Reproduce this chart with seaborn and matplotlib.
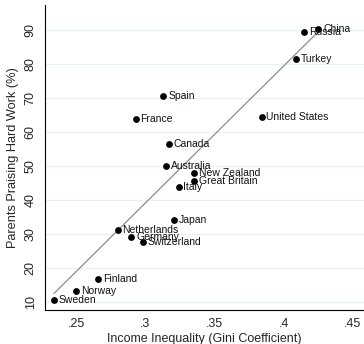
import matplotlib
matplotlib.use("Agg")
import matplotlib.pyplot as plt
import seaborn as sns
import pandas as pd

countries = ["Sweden", "Norway", "Finland", "Netherlands", "Germany", "Switzerland",
             "Japan", "Italy", "Australia", "New Zealand", "Great Britain", "Canada",
             "France", "Spain", "United States", "Turkey", "Russia", "China"]
gini = [0.234, 0.250, 0.266, 0.280, 0.290, 0.298,
        0.321, 0.324, 0.315, 0.335, 0.335, 0.317,
        0.293, 0.313, 0.384, 0.409, 0.415, 0.425]
hard_work = [10.6, 13.1, 16.6, 31.2, 29.1, 27.7,
             34.2, 43.9, 50.0, 47.9, 45.7, 56.4,
             64.0, 70.7, 64.5, 81.4, 89.5, 90.5]
x_ticks = [0.25, 0.30, 0.35, 0.40, 0.45]
x_tick_labels = [".25", ".3", ".35", ".4", ".45"]
y_ticks = [10, 20, 30, 40, 50, 60, 70, 80, 90]

df = pd.DataFrame({"country": countries, "gini": gini, "hard_work": hard_work})

sns.set_style("white")
plt.rcParams["font.family"] = ["Liberation Sans", "DejaVu Sans"]

fig, ax = plt.subplots(figsize=(3.64, 3.44), dpi=100)
fig.subplots_adjust(left=0.124, right=1.0, bottom=0.099, top=0.985)

for y in y_ticks:
    ax.axhline(y, color="#e8f0f2", lw=0.8, zorder=0)

sns.regplot(data=df, x="gini", y="hard_work", ci=None, ax=ax,
            scatter_kws={"s": 24, "color": "black", "alpha": 1.0,
                         "zorder": 3, "linewidths": 0},
            line_kws={"color": "#8c8c8c", "lw": 0.9, "zorder": 2})

for c, xv, yv in zip(countries, gini, hard_work):
    ax.annotate(c, (xv, yv), xytext=(3.5, 0), textcoords="offset points",
                va="center", ha="left", fontsize=7.5, color="#111111", zorder=4)

ax.set_xlim(0.2276, 0.458)
ax.set_ylim(7.6, 97.4)
ax.set_xticks(x_ticks)
ax.set_xticklabels(x_tick_labels)
ax.set_yticks(y_ticks)
ax.set_yticklabels([str(v) for v in y_ticks], rotation=90, va="center")
ax.tick_params(axis="both", direction="out", length=4, width=0.8, color="black",
               labelsize=9, pad=2)
ax.set_xlabel("Income Inequality (Gini Coefficient)", fontsize=9, labelpad=2)
ax.set_ylabel("Parents Praising Hard Work (%)", fontsize=9.2, labelpad=4)

for side in ["top", "right"]:
    ax.spines[side].set_visible(False)
for side in ["left", "bottom"]:
    ax.spines[side].set_color("black")
    ax.spines[side].set_linewidth(0.8)

fig.savefig("out.png", dpi=100)
